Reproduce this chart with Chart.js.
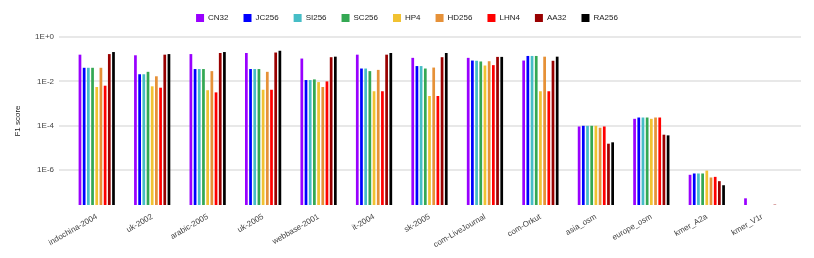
<!DOCTYPE html>
<html>
<head>
<meta charset="utf-8">
<script src="https://cdn.jsdelivr.net/npm/chart.js@4"></script>
<style>
  body { margin: 0; background: #fff; }
</style>
</head>
<body>
<canvas id="f1Chart" width="814" height="258"></canvas>
<script>
// graphs on the x axis
const graphs = ['indochina-2004', 'uk-2002', 'arabic-2005', 'uk-2005', 'webbase-2001', 'it-2004', 'sk-2005',
                'com-LiveJournal', 'com-Orkut', 'asia_osm', 'europe_osm', 'kmer_A2a', 'kmer_V1r'];

// F1 score per method (read off the log plot, so approximate)
const cn32  = [0.16, 0.15, 0.17, 0.19, 0.107, 0.16, 0.115, 0.115, 0.087, 9.3e-5, 2.06e-4, 6.2e-7, 5.4e-8];
const jc256 = [0.041, 0.021, 0.036, 0.036, 0.0115, 0.038, 0.049, 0.087, 0.14, 1.0e-4, 2.36e-4, 7.1e-7, null];
const si256 = [0.041, 0.021, 0.036, 0.036, 0.0115, 0.038, 0.049, 0.085, 0.14, 1.0e-4, 2.36e-4, 7.1e-7, null];
const sc256 = [0.041, 0.027, 0.036, 0.036, 0.0123, 0.029, 0.038, 0.079, 0.14, 1.0e-4, 2.36e-4, 7.1e-7, null];
const hp4   = [0.0056, 0.006, 0.004, 0.0042, 0.0093, 0.0036, 0.0022, 0.052, 0.0036, 1.0e-4, 2.06e-4, 9.6e-7, null];
const hd256 = [0.041, 0.017, 0.029, 0.027, 0.0056, 0.033, 0.042, 0.081, 0.13, 8.2e-5, 2.36e-4, 4.7e-7, null];
const lhn4  = [0.0064, 0.0052, 0.0032, 0.0042, 0.01, 0.0036, 0.0022, 0.054, 0.0036, 9.3e-5, 2.36e-4, 5.0e-7, null];
const aa32  = [0.17, 0.16, 0.19, 0.2, 0.123, 0.16, 0.123, 0.127, 0.085, 1.56e-5, 3.97e-5, 3.2e-7, 2.8e-8];
const ra256 = [0.21, 0.17, 0.21, 0.24, 0.13, 0.19, 0.19, 0.127, 0.13, 1.8e-5, 3.7e-5, 2.1e-7, null];

const methods = ['CN32', 'JC256', 'SI256', 'SC256', 'HP4', 'HD256', 'LHN4', 'AA32', 'RA256'];
const colors  = ['#9900ff', '#0000ff', '#46bdc6', '#34a853', '#f1c232', '#e69138', '#ff0000', '#990000', '#000000'];
const series  = [cn32, jc256, si256, sc256, hp4, hd256, lhn4, aa32, ra256];

// y axis only shows every second decade
const tickValues = [1, 1e-2, 1e-4, 1e-6];
const tickLabels = ['1E+0', '1E-2', '1E-4', '1E-6'];

// google-style gridlines run a bit past the bars on both sides
const wideGrid = {
    id: 'wideGrid',
    beforeDatasetsDraw(chart) {
        const { ctx, chartArea, scales: { y } } = chart;
        ctx.save();
        ctx.strokeStyle = '#e0e0e0';
        ctx.lineWidth = 1.5;
        y.ticks.forEach(t => {
            const py = Math.round(y.getPixelForValue(t.value));
            ctx.beginPath();
            ctx.moveTo(chartArea.left - 10, py);
            ctx.lineTo(chartArea.right + 11, py);
            ctx.stroke();
        });
        ctx.restore();
    }
};

// legend is centred on the whole canvas, not on the padded box, and sits a bit higher
const centreLegend = {
    id: 'centreLegend',
    afterLayout(chart) {
        const l = chart.legend;
        const shift = chart.width / 2 - (l.left + l.right) / 2;
        l.left += shift;
        l.right += shift;
        l.top -= 5;
        l.bottom -= 5;
    }
};

const ctx = document.getElementById('f1Chart').getContext('2d');

new Chart(ctx, {
    type: 'bar',
    data: {
        labels: graphs,
        datasets: methods.map((m, i) => ({
            label: m,
            data: series[i],
            backgroundColor: colors[i],
            borderWidth: 0,
            barPercentage: 0.65,
            categoryPercentage: 0.68
        }))
    },
    options: {
        responsive: false,
        animation: false,
        layout: { padding: { top: 4, right: 24, left: 0, bottom: 0 } },
        plugins: {
            legend: {
                position: 'top',
                labels: {
                    boxWidth: 8,
                    boxHeight: 8,
                    padding: 15,
                    color: '#222',
                    font: { family: 'Liberation Sans, Arial', size: 8 }
                }
            },
            tooltip: { enabled: false }
        },
        scales: {
            x: {
                grid: { display: false },
                border: { display: false },
                ticks: {
                    autoSkip: false,
                    minRotation: 30,
                    maxRotation: 30,
                    padding: -1,
                    color: '#444',
                    font: { family: 'Liberation Sans, Arial', size: 8 }
                },
                afterFit(scale) { scale.height = 53; }
            },
            y: {
                type: 'logarithmic',
                min: 2.7e-8,
                max: 1,
                grid: { display: false, drawTicks: false },
                border: { display: false },
                afterBuildTicks(scale) {
                    scale.ticks = tickValues.map(v => ({ value: v }));
                },
                ticks: {
                    padding: 15,
                    color: '#444',
                    font: { family: 'Liberation Sans, Arial', size: 8 },
                    callback: (v) => tickLabels[tickValues.indexOf(v)]
                },
                title: {
                    display: true,
                    text: 'F1 score',
                    color: '#222',
                    padding: { top: 13, bottom: 0 },
                    font: { family: 'Liberation Sans, Arial', size: 8 }
                },
                afterFit(scale) { scale.width = 69; }
            }
        }
    },
    plugins: [wideGrid, centreLegend]
});
</script>
</body>
</html>
